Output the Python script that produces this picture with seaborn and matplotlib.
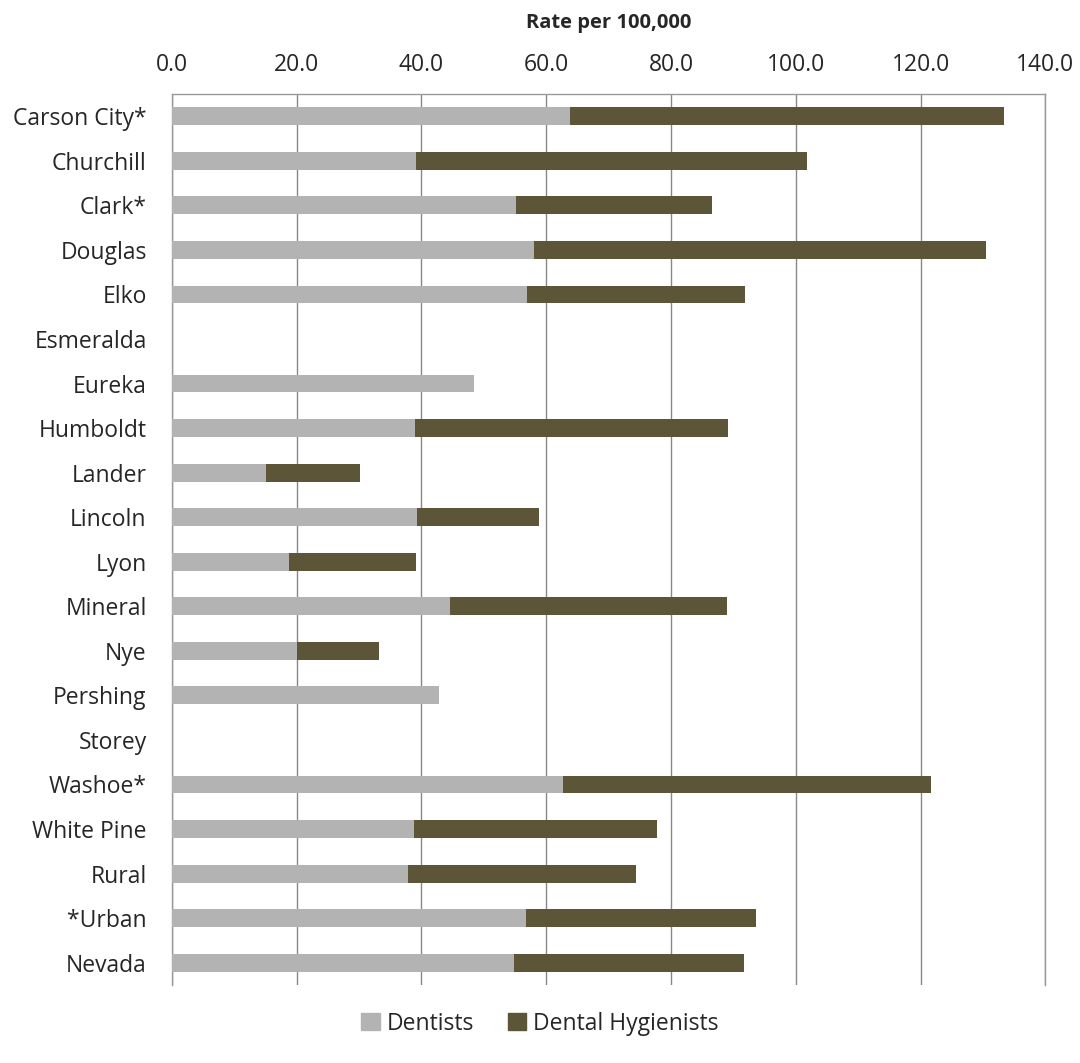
import pandas as pd
import matplotlib
matplotlib.use("Agg")
import matplotlib.pyplot as plt
import seaborn as sns
from matplotlib.patches import Patch

counties = ["Carson City*", "Churchill", "Clark*", "Douglas", "Elko", "Esmeralda",
            "Eureka", "Humboldt", "Lander", "Lincoln", "Lyon", "Mineral", "Nye",
            "Pershing", "Storey", "Washoe*", "White Pine", "Rural", "*Urban", "Nevada"]
dentists = [63.8, 39.1, 55.2, 58.0, 56.9, 0.0, 48.4, 39.0, 15.1, 39.3,
            18.8, 44.6, 20.0, 42.8, 0.0, 62.7, 38.8, 37.8, 56.8, 54.8]
hygienists = [69.5, 62.7, 31.4, 72.5, 35.0, 0.0, 0.0, 50.2, 15.1, 19.6,
              20.4, 44.4, 13.2, 0.0, 0.0, 58.9, 39.0, 36.6, 36.9, 36.9]

df = pd.DataFrame({"county": counties, "Dentists": dentists, "Dental Hygienists": hygienists})
df["total"] = df["Dentists"] + df["Dental Hygienists"]

c_dent = "#b3b3b3"
c_hyg = "#5d5538"

sns.set_style("white")
plt.rcParams["font.family"] = ["Open Sans", "DejaVu Sans"]

fig = plt.figure(figsize=(10.8, 10.63), dpi=100)
ax = fig.add_axes([0.159, 0.0734, 0.809, 0.8382])

# stacked: total first, dentists drawn over it
sns.barplot(data=df, x="total", y="county", color=c_hyg, orient="h",
            width=0.4, saturation=1, linewidth=0, ax=ax, zorder=3)
sns.barplot(data=df, x="Dentists", y="county", color=c_dent, orient="h",
            width=0.4, saturation=1, linewidth=0, ax=ax, zorder=4)

ax.set_xlim(0, 140)
ax.set_ylim(len(counties) - 0.5, -0.5)
ax.set_xticks(range(0, 141, 20))
ax.set_xticklabels([f"{v:.1f}" for v in range(0, 141, 20)], fontsize=16.5)
ax.xaxis.tick_top()
ax.xaxis.set_label_position("top")
ax.set_xlabel("Rate per 100,000", fontsize=14.5, fontweight="bold", labelpad=18)
ax.set_ylabel("")
ax.tick_params(axis="y", labelsize=16.5, length=0, pad=18)
ax.tick_params(axis="x", length=0, pad=12)
ax.grid(axis="x", color="#888888", linewidth=1, zorder=0)
ax.set_axisbelow(True)
for s in ax.spines.values():
    s.set_color("#999999")
    s.set_linewidth(1)
ax.spines["bottom"].set_visible(False)

handles = [Patch(color=c_dent, label="Dentists"), Patch(color=c_hyg, label="Dental Hygienists")]
fig.legend(handles=handles, loc="center", bbox_to_anchor=(0.5, 0.037), ncol=2,
           frameon=False, fontsize=16.5, handlelength=0.8, handleheight=0.8,
           handletextpad=0.3, columnspacing=1.5)

fig.savefig("out.png", dpi=100)
